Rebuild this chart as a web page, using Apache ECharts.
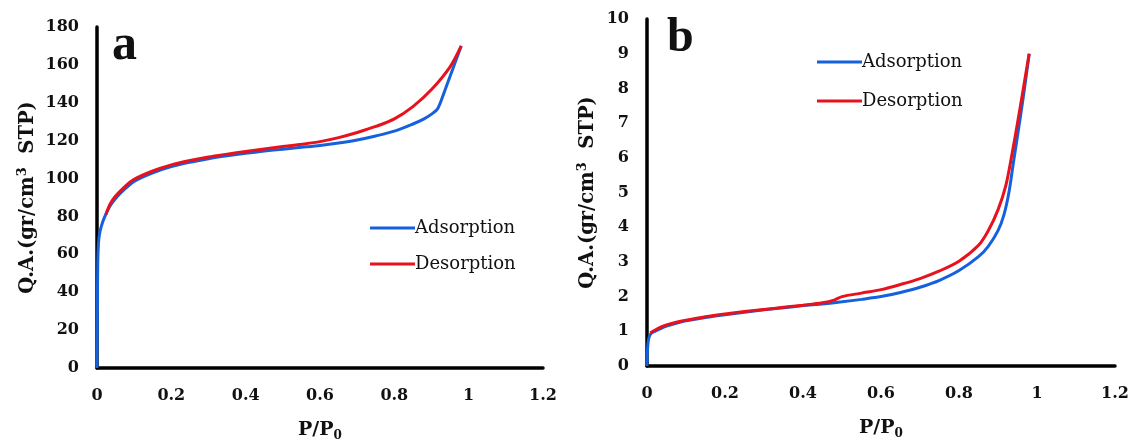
<!DOCTYPE html>
<html>
<head>
<meta charset="utf-8">
<script src="https://cdn.jsdelivr.net/npm/echarts@6/dist/echarts.min.js"></script>
<style>
html,body{margin:0;padding:0;background:#fff;}
#chart{width:1132px;height:443px;}
</style>
</head>
<body>
<div id="chart"></div>
<script>
// ---- data (P/P0, quantity adsorbed) ----
const seriesNames = ['Adsorption', 'Desorption'];
const xTicks = [0, 0.2, 0.4, 0.6, 0.8, 1, 1.2];

// panel a
const adsA = [[0,0],[0.001,30],[0.002,55],[0.004,66],[0.007,71],[0.012,75],[0.02,79.5],[0.035,85.5],[0.05,89.5],[0.075,94.5],[0.1,98.5],[0.15,103],[0.2,106.3],[0.25,108.6],[0.3,110.5],[0.35,112],[0.4,113.3],[0.45,114.5],[0.5,115.5],[0.55,116.5],[0.6,117.5],[0.65,118.8],[0.7,120.4],[0.75,122.5],[0.8,125],[0.85,128.8],[0.88,131.5],[0.9,134],[0.917,137],[0.935,146],[0.95,154],[0.965,162],[0.98,170]];
const desA = [[0.024,81],[0.035,86.5],[0.05,90.8],[0.075,95.8],[0.1,99.6],[0.15,104],[0.2,107.2],[0.25,109.5],[0.3,111.4],[0.35,112.9],[0.4,114.3],[0.45,115.6],[0.5,116.9],[0.55,118.1],[0.6,119.5],[0.65,121.6],[0.7,124.3],[0.75,127.5],[0.8,131.5],[0.85,138],[0.9,147],[0.95,159],[0.98,170]];

// panel b
const adsB = [[0,0],[0.001,0.4],[0.003,0.7],[0.006,0.85],[0.012,0.95],[0.02,1.0],[0.035,1.08],[0.05,1.15],[0.075,1.23],[0.1,1.3],[0.15,1.4],[0.2,1.48],[0.25,1.55],[0.3,1.62],[0.35,1.68],[0.4,1.74],[0.45,1.79],[0.5,1.85],[0.55,1.92],[0.6,2.0],[0.65,2.12],[0.7,2.27],[0.75,2.47],[0.8,2.75],[0.85,3.15],[0.875,3.45],[0.9,3.9],[0.915,4.35],[0.928,5.0],[0.94,5.9],[0.955,7.0],[0.968,8.0],[0.98,9.0]];
const desB = [[0.008,0.95],[0.02,1.03],[0.035,1.12],[0.05,1.18],[0.075,1.26],[0.1,1.32],[0.15,1.42],[0.2,1.5],[0.25,1.57],[0.3,1.63],[0.35,1.69],[0.4,1.75],[0.45,1.82],[0.48,1.9],[0.5,2.0],[0.55,2.1],[0.6,2.2],[0.65,2.35],[0.7,2.52],[0.75,2.74],[0.8,3.02],[0.85,3.48],[0.875,3.9],[0.9,4.5],[0.92,5.2],[0.935,6.05],[0.95,7.0],[0.965,8.0],[0.98,9.0]];

const panelLetters = ['a', 'b'];
const yMaxA = 180, yIntA = 20;
const yMaxB = 10, yIntB = 1;

// ---- styling ----
const FONT = 'DejaVu Serif';
const BLUE = '#1560dc';
const RED = '#e8121c';

function xAxisOpt(gi){
  return {
    gridIndex: gi, type: 'value', min: 0, max: 1.2, interval: 0.2,
    axisLine: {show: true, lineStyle: {color: '#000', width: 3.5}},
    axisTick: {show: false}, splitLine: {show: false},
    axisLabel: {color: '#111', fontFamily: FONT, fontWeight: 'bold', fontSize: 16, margin: 20,
      formatter: v => String(Math.round(v*10)/10)},
    name: '{n|P/P}{s|0}', nameLocation: 'middle', nameGap: 50,
    nameTextStyle: {rich: {
      n: {fontFamily: FONT, fontWeight: 'bold', fontSize: 19, color: '#111', lineHeight: 24},
      s: {fontFamily: FONT, fontWeight: 'bold', fontSize: 12, color: '#111', verticalAlign: 'bottom', lineHeight: 24}
    }}
  };
}
function yAxisOpt(gi, max, interval, gap){
  return {
    gridIndex: gi, type: 'value', min: 0, max: max, interval: interval,
    axisLine: {show: true, lineStyle: {color: '#000', width: 3.5}},
    axisTick: {show: false}, splitLine: {show: false},
    axisLabel: {color: '#111', fontFamily: FONT, fontWeight: 'bold', fontSize: 16, margin: 18},
    name: '{n|Q.A.(gr/cm}{s|3}{n|  STP)}', nameLocation: 'middle', nameRotate: 90, nameGap: gap,
    nameTextStyle: {rich: {
      n: {fontFamily: FONT, fontWeight: 'bold', fontSize: 19.5, color: '#111', lineHeight: 23},
      s: {fontFamily: FONT, fontWeight: 'bold', fontSize: 13, color: '#111', verticalAlign: 'top', lineHeight: 23}
    }}
  };
}
function lineSeries(name, data, color, xi){
  return {
    name: name, type: 'line', xAxisIndex: xi, yAxisIndex: xi, data: data,
    showSymbol: false, symbol: 'none', smooth: 0.3,
    lineStyle: {color: color, width: 3}, itemStyle: {color: color}, z: name === 'Desorption' ? 3 : 2
  };
}
function legendOpt(left, top, gap){
  return {
    orient: 'vertical', left: left, top: top, itemGap: gap,
    icon: 'rect', itemWidth: 45, itemHeight: 3,
    data: seriesNames,
    textStyle: {fontFamily: FONT, fontSize: 18, color: '#111', lineHeight: 20, padding: [0,0,0,-5]}
  };
}

const chart = echarts.init(document.getElementById('chart'), null, {renderer: 'canvas'});
chart.setOption({
  backgroundColor: '#fff',
  animation: false,
  grid: [
    {left: 97, top: 27, width: 446, height: 341, containLabel: false, outerBoundsMode: 'none'},
    {left: 647, top: 19, width: 468, height: 347, containLabel: false, outerBoundsMode: 'none'}
  ],
  xAxis: [xAxisOpt(0), xAxisOpt(1)],
  yAxis: [yAxisOpt(0, yMaxA, yIntA, 58), yAxisOpt(1, yMaxB, yIntB, 48)],
  legend: [legendOpt(365, 213, 16), legendOpt(812, 47, 19)],
  series: [
    lineSeries(seriesNames[0], adsA, BLUE, 0),
    lineSeries(seriesNames[1], desA, RED, 0),
    lineSeries(seriesNames[0], adsB, BLUE, 1),
    lineSeries(seriesNames[1], desB, RED, 1)
  ],
  graphic: [
    {type: 'text', left: 112, top: 21, style: {text: panelLetters[0], fontFamily: 'Liberation Serif', fontWeight: 'bold', fontSize: 50, fill: '#111'}},
    {type: 'text', left: 667, top: 15, style: {text: panelLetters[1], fontFamily: 'Liberation Serif', fontWeight: 'bold', fontSize: 48, fill: '#111'}}
  ]
});
</script>
</body>
</html>
